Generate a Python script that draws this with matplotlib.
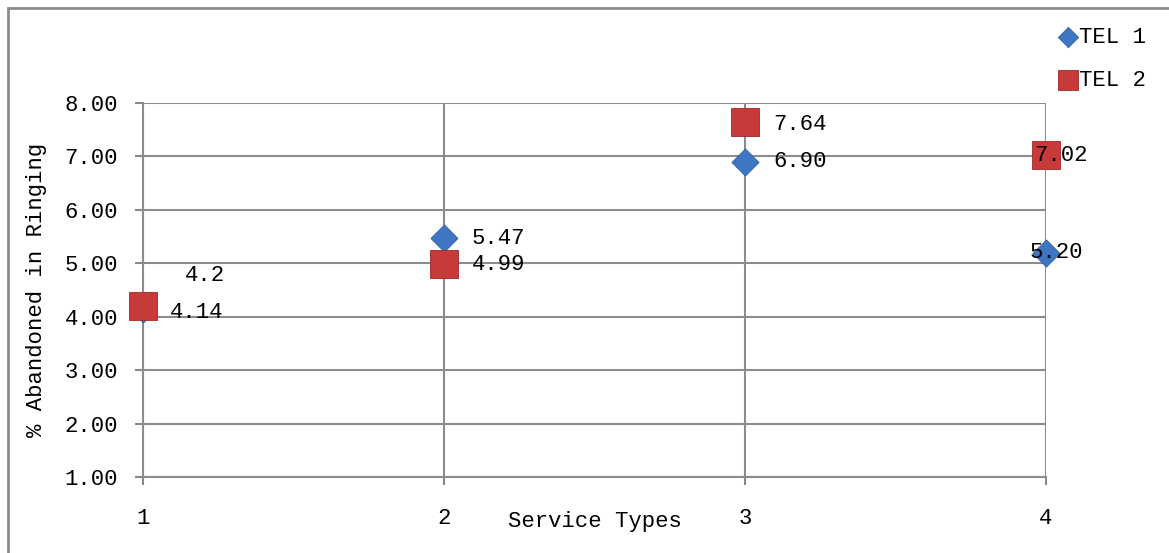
import matplotlib.pyplot as plt
from matplotlib.patches import Rectangle

plt.rcParams['font.family'] = ['Liberation Mono', 'DejaVu Sans Mono']

service = [1, 2, 3, 4]
tel1 = [4.14, 5.47, 6.90, 5.20]
tel2 = [4.2, 4.99, 7.64, 7.02]
tel1_labels = ['4.14', '5.47', '6.90', '5.20']
tel2_labels = ['4.2', '4.99', '7.64', '7.02']
yticks = [1, 2, 3, 4, 5, 6, 7, 8]

fig = plt.figure(figsize=(11.69, 5.53), dpi=100)
ax = fig.add_axes([143/1169, 1-477/553, (1046-143)/1169, (477-103)/553])

# outer chart border
fig.patches.append(Rectangle((8/1169, -0.05), 1.2, 1-8/553+0.05, transform=fig.transFigure,
                             fill=False, edgecolor='#8c8c8c', linewidth=2))

ax.scatter(service, tel1, marker='D', s=190, color='#3f76c3', edgecolor='#2f5f9f',
           linewidth=0.6, zorder=3, label='TEL 1', clip_on=False)
ax.scatter(service, tel2, marker='s', s=380, color='#c83a3a', edgecolor='#a02828',
           linewidth=0.6, zorder=4, label='TEL 2', clip_on=False)

off1 = [(27, -3), (28, 0), (28, 0), (-16, 0)]
off2 = [(42, 31), (28, -1), (28, -2), (-12, 0)]
for x, y, t, o in zip(service, tel1, tel1_labels, off1):
    ax.annotate(t, (x, y), xytext=o, textcoords='offset pixels', ha='left', va='center',
                fontsize=16, zorder=5, annotation_clip=False)
for x, y, t, o in zip(service, tel2, tel2_labels, off2):
    ax.annotate(t, (x, y), xytext=o, textcoords='offset pixels', ha='left', va='center',
                fontsize=16, zorder=5, annotation_clip=False)

ax.set_xlim(1, 4)
ax.set_ylim(1, 8)
ax.set_xticks(service)
ax.set_yticks(yticks)
ax.set_yticklabels([f'{v:.2f}' for v in yticks])
ax.tick_params(axis='both', labelsize=16, color='#888888', length=6, width=1.5)
ax.tick_params(axis='x', pad=16)
ax.tick_params(axis='y', pad=12)

ax.grid(True, color='#8c8c8c', linewidth=1.5)
ax.set_axisbelow(True)
for s in ['top', 'right']:
    ax.spines[s].set_visible(False)
for s in ['left', 'bottom']:
    ax.spines[s].set_color('#8c8c8c')
    ax.spines[s].set_linewidth(1.5)

ax.set_xlabel('Service Types', fontsize=16)
ax.xaxis.set_label_coords(0.5, -0.09)
ax.set_ylabel('% Abandoned in Ringing', fontsize=16)
ax.yaxis.set_label_coords(-0.106, 0.5)

fig.legend(loc='upper left', bbox_to_anchor=(1046/1169, 1-16/553), frameon=False,
           fontsize=16, handletextpad=0.0, labelspacing=1.0, markerscale=0.75,
           handlelength=1.0, borderpad=0)

plt.savefig('out.png', dpi=100)
plt.close()
